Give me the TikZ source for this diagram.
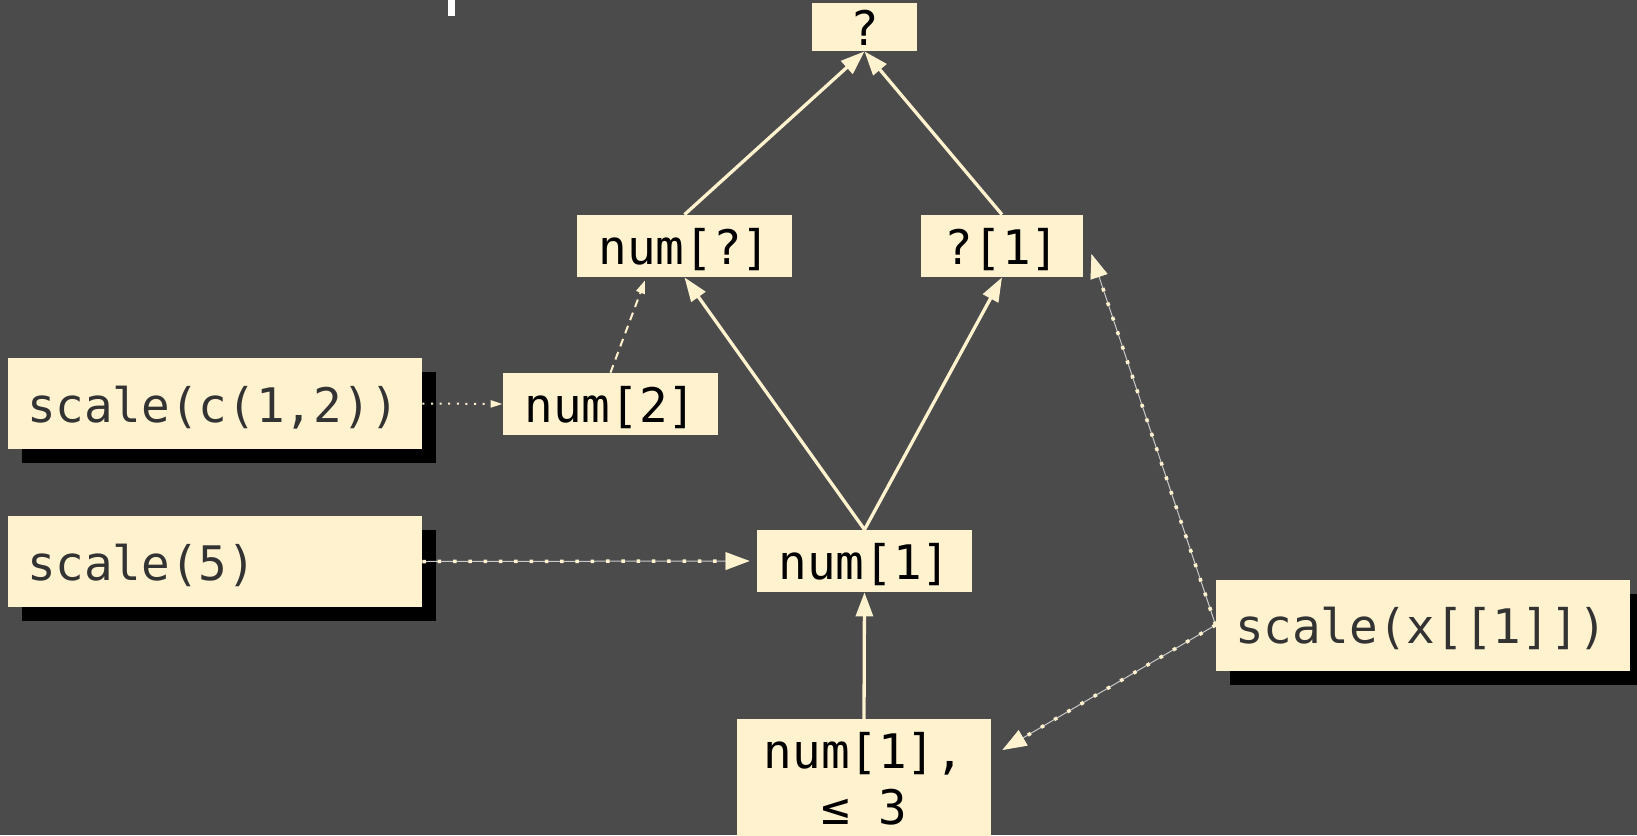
\documentclass[tikz,border=0pt]{standalone}
\usepackage{fontspec}
\setmonofont{DejaVu Sans Mono}
\usetikzlibrary{arrows.meta,shadows}

\definecolor{bg}{RGB}{75,75,75}
\definecolor{cream}{RGB}{255,242,206}
\definecolor{ink}{RGB}{51,51,51}
\definecolor{wire}{RGB}{200,200,200}

\newcommand{\codefont}{\ttfamily\fontsize{23.8}{28}\selectfont}

\begin{document}
\begin{tikzpicture}[x=0.5pt, y=-0.5pt,
  type/.style={fill=cream, inner sep=0pt, text=black, font=\codefont},
  tag/.style={type, text height=20pt, text depth=2pt},
  call/.style={fill=cream, inner xsep=9.5pt, inner ysep=0pt, text width=188pt,
    align=left, minimum height=45.5pt, text height=20pt, text depth=1.5pt,
    text=ink, font=\codefont,
    drop shadow={fill=black, opacity=1, shadow xshift=7pt, shadow yshift=-7pt}},
  link/.style={cream, line width=1.65pt, -{Triangle[length=12pt, width=8.5pt]}},
  hint/.style={cream, line width=1pt, dash pattern=on 4pt off 3pt,
    -{Triangle[length=6.5pt, width=4.5pt]}},
  spot/.style={cream, line width=1pt, dash pattern=on 1pt off 3.3pt,
    -{Triangle[length=6pt, width=3.5pt]}},
  flow/.style={wire, line width=0.5pt, -{Triangle[length=12pt, width=8.5pt]},
    postaction={draw=cream, line width=1.75pt, dash pattern=on 1.75pt off 5.9pt}}]
  \useasboundingbox (0,0) rectangle (1637,835);
  \clip (0,0) rectangle (1637,835);
  \fill[bg] (0,0) rectangle (1637,835);
  \fill[white] (448,0) rectangle (455,16);

  % type lattice
  \node[tag, minimum width=52.5pt, minimum height=24pt] (top) at (864.5,27) {?};
  \node[tag, minimum width=107.5pt, minimum height=31pt] (numq) at (684.5,246) {num[?]};
  \node[tag, minimum width=81pt, minimum height=31pt] (q1) at (1002,246) {?[1]};
  \node[tag, minimum width=107.5pt, minimum height=31pt] (num2) at (610.5,404) {num[2]};
  \node[tag, minimum width=107.5pt, minimum height=31pt] (num1) at (864.5,561) {num[1]};
  \node[type, anchor=north, minimum width=127pt, inner ysep=6.5pt, align=center] (numle) at (864,719) {num[1],\\≤ 3};

  % calls
  \node[call] (sc12) at (215,403.5) {scale(c(1,2))};
  \node[call] (sc5) at (215,561.5) {scale(5)};
  \node[call] (scx) at (1423,625) {scale(x[[1]])};

  \foreach \a/\b in {numq.north/top.south, q1.north/top.south,
    num1.north/numq.south, num1.north/q1.south, numle.north/num1.south}
    \draw[link] (\a) -- (\b);

  \draw[hint] (num2.north) -- ([xshift=-19.75pt, yshift=-1.5pt]numq.south);
  \draw[spot] (sc12.east) -- (num2.west);

  \coordinate (q1tip) at ([xshift=4pt, yshift=-4pt]q1.east);
  \coordinate (letip) at ([xshift=5.5pt, yshift=-15.5pt]numle.north east);
  \draw[flow, shorten >=3.5pt] (sc5.east) -- (num1.west);
  \draw[flow] (scx.west) -- (q1tip);
  \draw[flow] (scx.west) -- (letip);
\end{tikzpicture}
\end{document}
